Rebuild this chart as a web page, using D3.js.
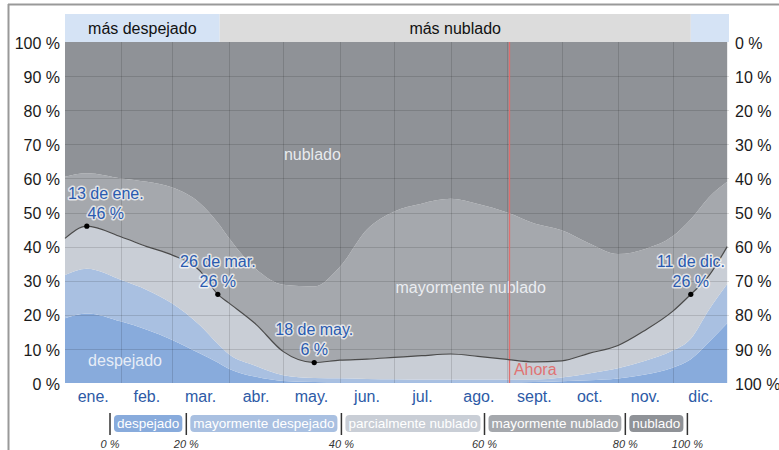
<!DOCTYPE html>
<html>
<head>
<meta charset="utf-8">
<script src="https://cdn.jsdelivr.net/npm/d3@7"></script>
<style>
  html, body { margin: 0; padding: 0; background: #fff; }
  svg { display: block; font-family: "Liberation Sans", Arial, sans-serif; }
</style>
</head>
<body>
<svg id="chart" width="779" height="450"></svg>
<script>
// Day of year (0 = 1 Jan) of each sample
const dayOfYear = [0, 12, 31, 45, 59, 74, 84, 90, 105, 120, 137, 151, 166, 181, 196, 212, 227, 243, 258, 273, 288, 304, 319, 334, 344, 354, 364];

// Share of time (%) in each cloud-cover category, per sample day
const despejado            = [19.0, 20.4, 18.0, 15.6, 12.6, 8.7, 6.0, 4.2, 1.8, 0.6, 0.3, 0.2, 0.2, 0.2, 0.2, 0.2, 0.2, 0.2, 0.3, 0.5, 0.8, 1.3, 2.5, 4.5, 7.0, 12.0, 17.5];
const mayormenteDespejado  = [12.7, 13.1, 12.2, 11.7, 10.7, 8.3, 5.5, 4.3, 3.2, 1.7, 1.2, 1.2, 1.0, 0.9, 0.8, 0.8, 0.8, 0.8, 0.7, 1.1, 2.0, 3.0, 4.0, 5.0, 6.0, 9.5, 11.5];
const parcialmenteNublado  = [10.7, 12.5, 12.6, 12.7, 14.2, 16.0, 14.5, 15.0, 12.2, 6.9, 4.5, 5.3, 5.8, 6.4, 7.0, 7.5, 6.8, 5.9, 5.2, 4.9, 5.9, 6.7, 9.0, 11.5, 13.0, 10.0, 11.0];
const mayormenteNublado    = [18.1, 15.5, 17.2, 19.0, 19.8, 19.8, 21.0, 19.1, 16.2, 19.6, 22.3, 27.3, 38.0, 42.8, 44.6, 45.5, 44.7, 43.1, 40.6, 38.3, 32.3, 26.8, 23.8, 22.0, 22.0, 23.0, 19.0];
const nublado              = [39.5, 38.5, 40.0, 41.0, 42.7, 47.2, 53.0, 57.4, 66.6, 71.2, 71.7, 66.0, 55.0, 49.7, 47.4, 46.0, 47.5, 50.0, 53.2, 55.2, 59.0, 62.2, 60.7, 57.0, 52.0, 45.5, 41.0];

const categories = ["despejado", "mayormente despejado", "parcialmente nublado", "mayormente nublado", "nublado"];
const categoryColors = ["#88abdc", "#a9c0e1", "#c9ced6", "#a5a8ad", "#8f9297"];

const monthLabels = ["ene.", "feb.", "mar.", "abr.", "may.", "jun.", "jul.", "ago.", "sept.", "oct.", "nov.", "dic."];
const monthStarts = [0, 31, 59, 90, 120, 151, 181, 212, 243, 273, 304, 334, 365];
const yTicks = [0, 10, 20, 30, 40, 50, 60, 70, 80, 90, 100];
const legendBreaks = [0, 20, 40, 60, 80, 100];

// Extremes of the clearer share that are called out on the chart
const highlightDays = [12, 84, 137, 344];
// Clearer part of the year: 11 Dec to 26 Mar
const seasons = [
  { label: "más despejado", start: 0,   end: 85,  color: "#d5e3f5", text: true },
  { label: "más nublado",   start: 85,  end: 344, color: "#dcdcdc", text: true },
  { label: "más despejado", start: 344, end: 365, color: "#d5e3f5", text: false }
];
const todayDay = 244;

(function draw() {
  const rows = dayOfYear.map((d, i) => ({
    day: d,
    "despejado": despejado[i],
    "mayormente despejado": mayormenteDespejado[i],
    "parcialmente nublado": parcialmenteNublado[i],
    "mayormente nublado": mayormenteNublado[i],
    "nublado": nublado[i]
  }));

  const svg = d3.select("#chart");
  const plotLeft = 65, plotRight = 729, plotTop = 42, plotBottom = 383;

  const x = d3.scaleLinear().domain([0, 365]).range([plotLeft, plotRight]);
  const y = d3.scaleLinear().domain([0, 100]).range([plotBottom, plotTop]);

  // outer frame
  svg.append("line").attr("x1", 8.5).attr("x2", 8.5).attr("y1", 4).attr("y2", 450)
    .attr("stroke", "#999").attr("stroke-width", 2);
  svg.append("line").attr("x1", 8).attr("x2", 779).attr("y1", 4.5).attr("y2", 4.5)
    .attr("stroke", "#999").attr("stroke-width", 2);

  // season band above the plot
  const band = svg.append("g");
  band.selectAll("rect").data(seasons).join("rect")
    .attr("x", d => x(d.start)).attr("width", d => x(d.end) - x(d.start))
    .attr("y", 14).attr("height", plotTop - 14)
    .attr("fill", d => d.color);
  band.selectAll("text").data(seasons.filter(s => s.text)).join("text")
    .attr("x", d => (x(d.start) + x(d.end)) / 2).attr("y", 28)
    .attr("dy", "0.35em").attr("text-anchor", "middle")
    .attr("font-size", 16).attr("fill", "#111")
    .text(d => d.label);

  // stacked cloud-cover areas
  const layers = d3.stack().keys(categories)(rows);
  const area = d3.area()
    .x(d => x(d.data.day))
    .y0(d => y(d[0]))
    .y1(d => y(d[1]))
    .curve(d3.curveMonotoneX);

  svg.append("g").selectAll("path").data(layers).join("path")
    .attr("d", area)
    .attr("fill", (d, i) => categoryColors[i]);

  // grid
  const grid = svg.append("g").attr("stroke", "#000").attr("stroke-opacity", 0.13).attr("stroke-width", 1);
  grid.selectAll("line.h").data(yTicks.slice(1, -1)).join("line")
    .attr("class", "h")
    .attr("x1", plotLeft).attr("x2", plotRight)
    .attr("y1", d => Math.round(y(d)) + 0.5).attr("y2", d => Math.round(y(d)) + 0.5);
  grid.selectAll("line.v").data(monthStarts.slice(1, -1)).join("line")
    .attr("class", "v")
    .attr("x1", d => Math.round(x(d)) + 0.5).attr("x2", d => Math.round(x(d)) + 0.5)
    .attr("y1", plotTop).attr("y2", plotBottom);

  // region names
  const regionLabels = [
    { text: "nublado", day: 136, pct: 67 },
    { text: "mayormente nublado", day: 223, pct: 28 },
    { text: "despejado", day: 33, pct: 6.7 }
  ];
  svg.append("g").selectAll("text").data(regionLabels).join("text")
    .attr("x", d => x(d.day)).attr("y", d => y(d.pct))
    .attr("dy", "0.35em").attr("text-anchor", "middle")
    .attr("font-size", 16).attr("fill", "#f4f6fa").attr("fill-opacity", 0.9)
    .text(d => d.text);

  // now marker
  svg.append("line")
    .attr("x1", Math.round(x(todayDay)) + 0.5).attr("x2", Math.round(x(todayDay)) + 0.5)
    .attr("y1", plotTop).attr("y2", plotBottom)
    .attr("stroke", "#df6f6f").attr("stroke-width", 1.3);
  svg.append("text")
    .attr("x", x(todayDay) + 5).attr("y", 369).attr("dy", "0.35em")
    .attr("font-size", 16).attr("fill", "#e07373")
    .text("Ahora");

  // boundary between partly cloudy and mostly cloudy
  const clearer = layers[2];
  const line = d3.line()
    .x(d => x(d.data.day))
    .y(d => y(d[1]))
    .curve(d3.curveMonotoneX);
  svg.append("path").attr("d", line(clearer))
    .attr("fill", "none").attr("stroke", "#4a4a4a").attr("stroke-width", 1.2);

  // highlighted extremes
  const fmtDate = day => {
    const m = d3.bisectRight(monthStarts, day) - 1;
    return `${day - monthStarts[m] + 1} de ${monthLabels[m]}`;
  };
  const hl = svg.append("g");
  highlightDays.forEach(day => {
    const pt = clearer[dayOfYear.indexOf(day)];
    const cx = x(day), cy = y(pt[1]);
    hl.append("circle").attr("cx", cx).attr("cy", cy).attr("r", 2.6).attr("fill", "#000");
    const g = hl.append("g");
    const t1 = g.append("text").attr("y", cy - 33).text(fmtDate(day));
    const t2 = g.append("text").attr("y", cy - 13).text(`${Math.round(pt[1])} %`);
    g.selectAll("text")
      .attr("dy", "0.35em").attr("text-anchor", "middle")
      .attr("font-size", 16).attr("fill", "#2a5bb0")
      .attr("stroke", "#fff").attr("stroke-opacity", 0.7).attr("stroke-width", 3)
      .attr("stroke-linejoin", "round").attr("paint-order", "stroke");
    const w = Math.max(t1.node().getComputedTextLength(), t2.node().getComputedTextLength());
    const lx = Math.min(Math.max(cx, plotLeft + 3 + w / 2), plotRight - 1 - w / 2);
    g.selectAll("text").attr("x", lx);
  });

  // y axes
  svg.append("g").selectAll("text").data(yTicks).join("text")
    .attr("x", 60).attr("y", d => y(d) + 1).attr("dy", "0.35em")
    .attr("text-anchor", "end").attr("font-size", 16).attr("fill", "#1a1a1a")
    .text(d => `${d} %`);
  svg.append("g").selectAll("text").data(yTicks).join("text")
    .attr("x", 735).attr("y", d => y(d) + 1).attr("dy", "0.35em")
    .attr("text-anchor", "start").attr("font-size", 16).attr("fill", "#1a1a1a")
    .text(d => `${100 - d} %`);

  // month labels
  svg.append("g").selectAll("text").data(monthLabels).join("text")
    .attr("x", (d, i) => x((monthStarts[i] + monthStarts[i + 1]) / 2))
    .attr("y", 396).attr("dy", "0.35em").attr("text-anchor", "middle")
    .attr("font-size", 16).attr("fill", "#2d5aa6")
    .text(d => d);

  // legend
  const legend = svg.append("g");
  let lx = 110;
  const divider = (xx, pct) => {
    legend.append("line").attr("x1", xx).attr("x2", xx).attr("y1", 413).attr("y2", 435)
      .attr("stroke", "#333").attr("stroke-width", 1.5);
    legend.append("text").attr("x", xx).attr("y", 448).attr("text-anchor", "middle")
      .attr("font-size", 11).attr("font-style", "italic").attr("fill", "#333")
      .text(`${pct} %`);
  };
  divider(lx, legendBreaks[0]);
  categories.forEach((c, i) => {
    const chip = legend.append("g");
    const rect = chip.append("rect").attr("y", 415).attr("height", 17).attr("rx", 4)
      .attr("fill", categoryColors[i]);
    const t = chip.append("text").attr("y", 423.5).attr("dy", "0.35em")
      .attr("font-size", 13.5).attr("fill", "#fff").text(c);
    const w = t.node().getComputedTextLength() + 6;
    rect.attr("x", lx + 4).attr("width", w);
    t.attr("x", lx + 7);
    lx += 4 + w + 4;
    divider(lx, legendBreaks[i + 1]);
  });
})();
</script>
</body>
</html>
